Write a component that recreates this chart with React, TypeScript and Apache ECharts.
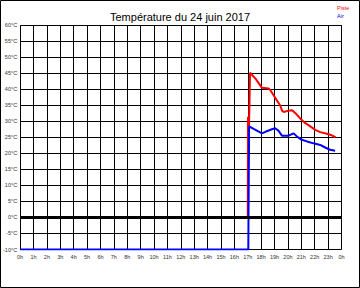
import React, { useEffect, useRef } from "react";
import * as echarts from "echarts";

const TITLE = "Température du 24 juin 2017";
const SERIES_NAMES = ["Piste", "Air"];

// time in hours of the day, temperature in °C
const pisteHours = [17.0, 17.02, 17.05, 17.17, 17.59, 18.06, 18.56, 18.7, 19.42, 19.57, 19.69, 20.04, 20.31, 20.56, 20.93, 21.3, 21.67, 22.04, 22.41, 22.9, 23.27, 23.56];
const pisteTemps = [0.0, 31.4, 18.8, 45.1, 43.2, 40.4, 40.2, 39.6, 34.9, 33.2, 32.9, 33.3, 33.4, 32.5, 30.8, 29.4, 28.4, 27.3, 26.6, 26.1, 25.6, 25.0];

const airHours = [0, 17.04, 17.1, 17.44, 18.06, 18.32, 18.8, 19.05, 19.3, 19.55, 20.04, 20.3, 20.43, 20.68, 21.04, 21.42, 21.91, 22.41, 22.78, 23.15, 23.52];
const airTemps = [-10, -10, 28.4, 27.6, 26.2, 26.7, 27.5, 27.8, 27.0, 25.5, 25.5, 26.0, 26.2, 25.2, 24.2, 23.7, 23.1, 22.6, 21.8, 21.1, 20.8];

const X_MIN = 0;
const X_MAX = 24;
const Y_MIN = -10;
const Y_MAX = 60;

const toPairs = (xs: number[], ys: number[]) => xs.map((x, i) => [x, ys[i]]);

export default function App() {
  const ref = useRef<HTMLDivElement>(null);
  useEffect(() => {
    if (!ref.current) return;
    const chart = echarts.init(ref.current, null, { renderer: "svg" });
    const labelFont = { fontFamily: "Liberation Sans", fontSize: 5.5, color: "#333" };
    chart.setOption({
      animation: false,
      backgroundColor: "#fff",
      title: {
        text: TITLE,
        left: "center",
        top: 6,
        textStyle: { fontFamily: "Liberation Sans", fontSize: 11, fontWeight: "normal", color: "#000" },
      },
      grid: { left: 17.5, right: 18.5, top: 25, bottom: 38.5, containLabel: false },
      xAxis: {
        type: "value",
        min: X_MIN,
        max: X_MAX,
        interval: 1,
        axisLine: { show: false },
        axisTick: { show: false },
        axisLabel: { ...labelFont, margin: 4, formatter: (v: number) => (v % 24) + "h" },
        splitLine: { show: true, lineStyle: { color: "#000", width: 1 } },
      },
      yAxis: {
        type: "value",
        min: Y_MIN,
        max: Y_MAX,
        interval: 5,
        axisLine: { show: false },
        axisTick: { show: false },
        axisLabel: { ...labelFont, margin: 3, formatter: "{value}°C" },
        splitLine: { show: true, lineStyle: { color: "#000", width: 1 } },
      },
      graphic: [
        {
          type: "rect",
          shape: { x: 0.5, y: 0.5, width: 359, height: 287 },
          style: { fill: "none", stroke: "#000", lineWidth: 1 },
          silent: true,
        },
        {
          type: "text",
          x: 337,
          y: 8,
          style: { text: SERIES_NAMES[0], fill: "#ff0000", fontSize: 5.5, fontFamily: "Liberation Sans", verticalAlign: "middle" },
        },
        {
          type: "text",
          x: 337,
          y: 16,
          style: { text: SERIES_NAMES[1], fill: "#0000ff", fontSize: 5.5, fontFamily: "Liberation Sans", verticalAlign: "middle" },
        },
      ],
      series: [
        {
          name: SERIES_NAMES[0],
          type: "line",
          data: toPairs(pisteHours, pisteTemps),
          showSymbol: false,
          symbol: "none",
          lineStyle: { color: "#ff0000", width: 2 },
          itemStyle: { color: "#ff0000" },
          markLine: {
            silent: true,
            symbol: "none",
            label: { show: false },
            lineStyle: { color: "#000", width: 3, type: "solid" },
            data: [{ yAxis: 0 }],
          },
          z: 3,
        },
        {
          name: SERIES_NAMES[1],
          type: "line",
          data: toPairs(airHours, airTemps),
          showSymbol: false,
          symbol: "none",
          lineStyle: { color: "#0000ff", width: 2 },
          itemStyle: { color: "#0000ff" },
          z: 4,
        },
      ],
    });
    return () => chart.dispose();
  }, []);
  return (
    <div
      ref={ref}
      style={{ position: "absolute", left: 0, top: 0, width: 360, height: 288 }}
    />
  );
}
